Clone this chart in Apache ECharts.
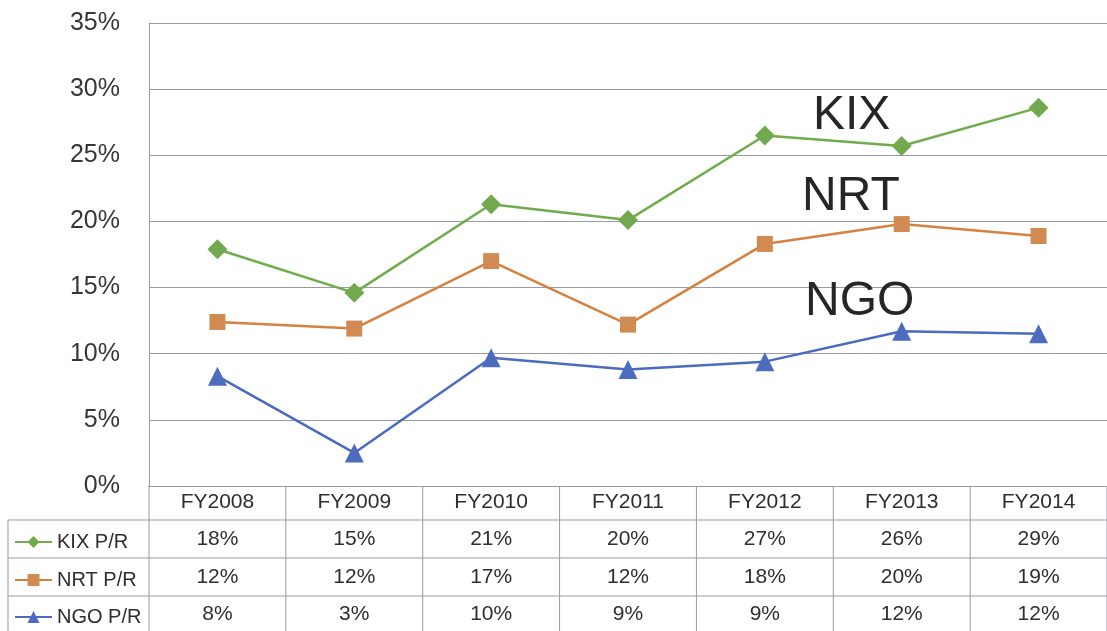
<!DOCTYPE html>
<html>
<head>
<meta charset="utf-8">
<script src="https://cdn.jsdelivr.net/npm/echarts@6/dist/echarts.min.js"></script>
<style>
html,body{margin:0;padding:0;background:#fff;}
#c{width:1107px;height:631px;}
</style>
</head>
<body>
<div id="c"></div>
<script>
const categories = ['FY2008','FY2009','FY2010','FY2011','FY2012','FY2013','FY2014'];
const kix = [17.9, 14.6, 21.3, 20.1, 26.5, 25.7, 28.6];
const nrt = [12.4, 11.9, 17.0, 12.2, 18.3, 19.8, 18.9];
const ngo = [8.3, 2.5, 9.7, 8.8, 9.4, 11.7, 11.5];
const seriesNames = ['KIX P/R', 'NRT P/R', 'NGO P/R'];
const annotations = ['KIX', 'NRT', 'NGO'];

const FONT = 'Liberation Sans, Arial, sans-serif';
const GRID_LEFT = 149, GRID_TOP = 23, GRID_H = 463, GRID_W = 959;
const lineCol = '#9a9aa3';
const txt = '#2e2e2e';

const chart = echarts.init(document.getElementById('c'), null, {renderer:'canvas'});

function rowAxis(offset, arr) {
  return {
    type:'category', data: categories, position:'bottom', offset: offset,
    boundaryGap:true, axisLine:{show:false}, axisTick:{show:false},
    axisLabel:{margin:6, fontSize:21, fontFamily:FONT, color:txt,
      formatter:(v,i)=> Math.round(arr[i]) + '%'}
  };
}
const rowCenters = [538, 576, 613];
function legendFor(i) {
  return {orient:'horizontal', left:9, top:rowCenters[i] - 11, itemWidth:37, itemHeight:15,
    textStyle:{fontSize:20, fontFamily:FONT, color:txt}, data:[seriesNames[i]], selectedMode:false};
}

const option = {
  animation:false,
  backgroundColor:'#fff',
  grid:{left:GRID_LEFT, top:GRID_TOP, height:GRID_H, width:GRID_W, containLabel:false},
  xAxis:[
    {type:'category', data:categories, boundaryGap:true,
     axisLine:{show:true, lineStyle:{color:lineCol, width:1}},
     axisTick:{show:false},
     axisLabel:{margin:6, fontSize:21, fontFamily:FONT, color:txt}},
    rowAxis(37, kix), rowAxis(75, nrt), rowAxis(112, ngo)
  ],
  yAxis:{type:'value', min:0, max:35, interval:5,
    axisLine:{show:true, lineStyle:{color:lineCol}},
    axisTick:{show:false},
    splitLine:{lineStyle:{color:lineCol, width:1}},
    axisLabel:{formatter:'{value}%', fontSize:25, fontFamily:FONT, color:'#363636', margin:29}},
  legend:[legendFor(0), legendFor(1), legendFor(2)],
  series:[
    {name:seriesNames[0], type:'line', data:kix, symbol:'diamond', symbolSize:20,
     lineStyle:{color:'#6fac4c', width:2.5}, itemStyle:{color:'#71a94f'}},
    {name:seriesNames[1], type:'line', data:nrt, symbol:'rect', symbolSize:16,
     lineStyle:{color:'#d5813f', width:2.5}, itemStyle:{color:'#d18b52'}},
    {name:seriesNames[2], type:'line', data:ngo, symbol:'triangle', symbolSize:19,
     lineStyle:{color:'#4a6bbf', width:2.5}, itemStyle:{color:'#4e6cbd'}}
  ]
};
chart.setOption(option);

// table grid lines computed from the category axis
const x0 = chart.convertToPixel({xAxisIndex:0}, 0);
const x1 = chart.convertToPixel({xAxisIndex:0}, 1);
const step = x1 - x0;
const axisY = chart.convertToPixel({yAxisIndex:0}, 0);
const rowLines = [520, 558, 596];
const bottom = 640;
const g = [];
const ls = {stroke:lineCol, lineWidth:1};
rowLines.forEach(y => g.push({type:'line', shape:{x1:8, y1:y, x2:1107, y2:y}, style:ls, silent:true}));
g.push({type:'line', shape:{x1:8, y1:rowLines[0], x2:8, y2:bottom}, style:ls, silent:true});
g.push({type:'line', shape:{x1:GRID_LEFT, y1:axisY, x2:GRID_LEFT, y2:bottom}, style:ls, silent:true});
for (let i = 0; i < categories.length; i++) {
  const bx = x0 + step * (i + 0.5);
  g.push({type:'line', shape:{x1:bx, y1:axisY, x2:bx, y2:bottom}, style:ls, silent:true});
}
const annPos = [[813, 118.5], [802, 200], [805, 305]];
annotations.forEach((t, i) => g.push({type:'text', left:annPos[i][0], top:annPos[i][1] - 27,
  style:{text:t, fontSize:48, fontFamily:FONT, fill:'#262626'}, silent:true}));
chart.setOption({graphic:g});
</script>
</body>
</html>
